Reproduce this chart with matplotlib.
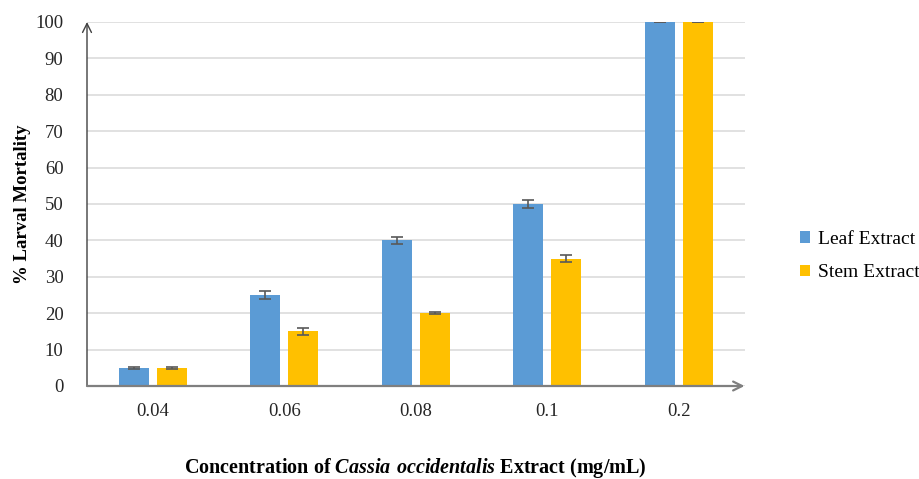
import numpy as np
import matplotlib.pyplot as plt

concentrations = ['0.04', '0.06', '0.08', '0.1', '0.2']
leaf = [5, 25, 40, 50, 100]
leaf_err = [0.2, 1, 1, 1, 0]
stem = [5, 15, 20, 35, 100]
stem_err = [0.2, 1, 0.2, 1, 0]

plt.rcParams['font.family'] = ['Liberation Serif', 'DejaVu Serif']
plt.rcParams['mathtext.fontset'] = 'custom'
plt.rcParams['mathtext.bfit'] = 'Liberation Serif:italic:bold'
plt.rcParams['mathtext.rm'] = 'Liberation Serif'

fig = plt.figure(figsize=(9.19, 4.79), dpi=100)
ax = fig.add_axes([87 / 919, 1 - 386 / 479, (744.5 - 87) / 919, (386 - 22) / 479])

x = np.arange(len(concentrations))
w = 0.228
off = 0.144
err_kw = dict(ecolor='#595959', elinewidth=1.2, capsize=4, capthick=1.2)
ax.bar(x - off, leaf, w, yerr=leaf_err, color='#5B9BD5', label='Leaf Extract', error_kw=err_kw, zorder=3)
ax.bar(x + off, stem, w, yerr=stem_err, color='#FFC000', label='Stem Extract', error_kw=err_kw, zorder=3)

ax.set_xlim(-0.5, len(concentrations) - 0.5)
ax.set_ylim(0, 100)
ax.set_yticks(range(0, 101, 10))
ax.set_xticks(x)
ax.set_xticklabels(concentrations)
ax.tick_params(axis='both', length=0, labelsize=13.5, colors='#262626')
ax.tick_params(axis='x', pad=12)
ax.tick_params(axis='y', pad=17)
ax.grid(axis='y', color='#d9d9d9', linewidth=1.1, zorder=0)
for s in ax.spines.values():
    s.set_visible(False)

# axis arrows
ax.annotate('', xy=(0, 1.0), xytext=(0, 0), xycoords='axes fraction',
            arrowprops=dict(arrowstyle='->', color='#404040', lw=1.0, mutation_scale=16,
                            shrinkA=0, shrinkB=0), zorder=5)
ax.annotate('', xy=(1.0, 0), xytext=(0, 0), xycoords='axes fraction',
            arrowprops=dict(arrowstyle='->', color='#7f7f7f', lw=1.6, mutation_scale=16,
                            shrinkA=0, shrinkB=0), zorder=5)

ax.set_ylabel('% Larval Mortality', fontsize=13.5, fontweight='bold', labelpad=3)
fig.text(0.452, 1 - 468 / 479, 'Concentration of $\\mathbfit{Cassia\\ occidentalis}$ Extract (mg/mL)',
         ha='center', va='center', fontsize=14.5, fontweight='bold')

fig.legend(loc='center left', bbox_to_anchor=(782 / 919, 1 - 256 / 479), frameon=False,
           fontsize=14, handlelength=0.55, handleheight=0.55, handletextpad=0.4,
           labelspacing=0.85)

fig.savefig('out.png', dpi=100)
